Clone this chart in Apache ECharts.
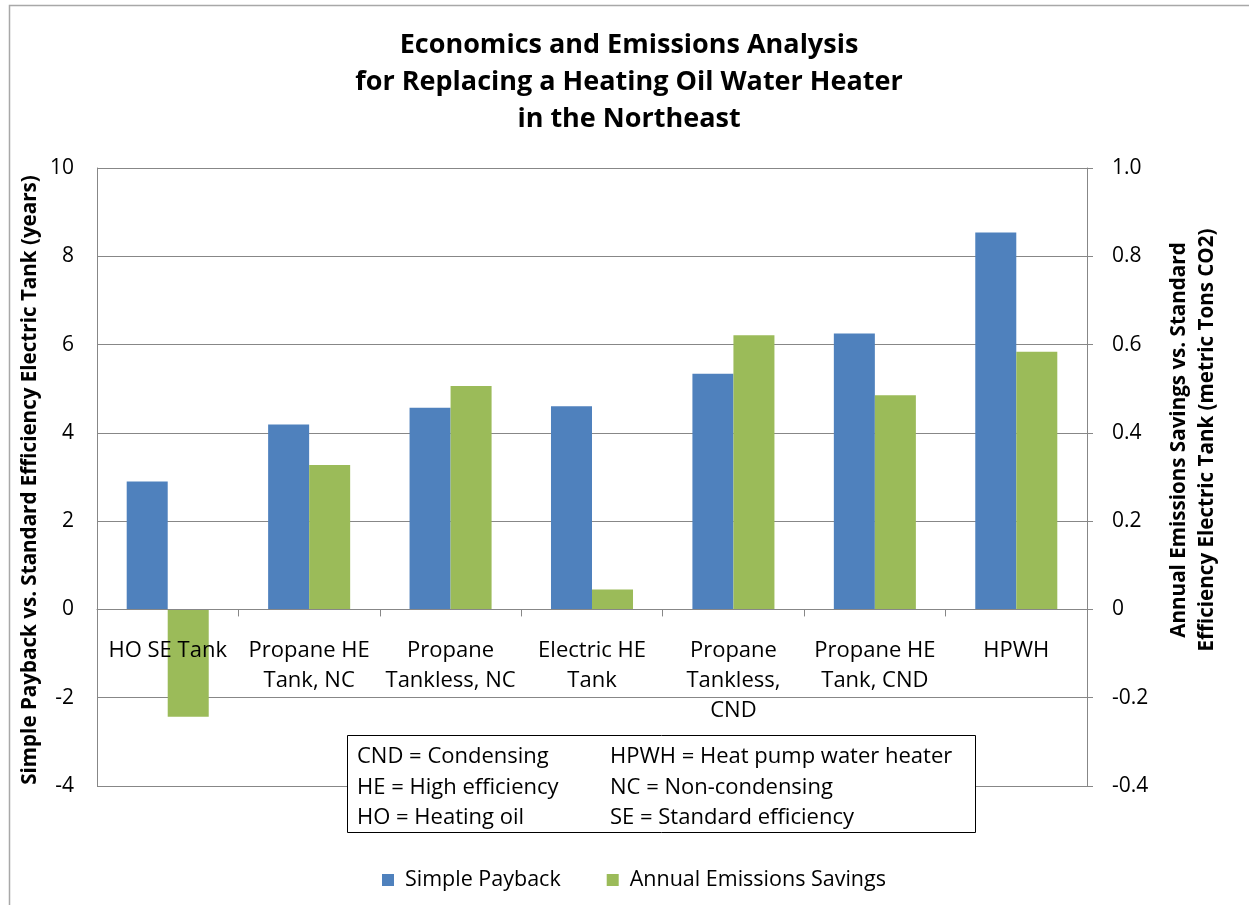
<!DOCTYPE html>
<html>
<head>
<meta charset="utf-8">
<script src="https://cdn.jsdelivr.net/npm/echarts@6/dist/echarts.min.js"></script>
<style>
  html, body { margin: 0; padding: 0; background: #fff; }
  #chart { width: 1249px; height: 905px; }
</style>
</head>
<body>
<div id="chart"></div>
<script>
// Water heater options compared against a standard-efficiency electric tank
const categories = [
  'HO SE Tank',
  'Propane HE\nTank, NC',
  'Propane\nTankless, NC',
  'Electric HE\nTank',
  'Propane\nTankless,\nCND',
  'Propane HE\nTank, CND',
  'HPWH'
];
// Simple payback, years (left axis)
const simplePayback = [2.90, 4.19, 4.57, 4.60, 5.34, 6.25, 8.54];
// Annual emissions savings, metric tons CO2 (right axis)
const emissionsSavings = [-0.243, 0.327, 0.506, 0.045, 0.621, 0.485, 0.584];

const leftTicks = { min: -4, max: 10, interval: 2 };
const rightTicks = { min: -0.4, max: 1.0, interval: 0.2 };

const seriesNames = ['Simple Payback', 'Annual Emissions Savings'];
const titleLines = [
  'Economics and Emissions Analysis',
  'for Replacing a Heating Oil Water Heater',
  'in the Northeast'
];
const leftAxisTitle = 'Simple Payback vs. Standard Efficiency Electric Tank (years)';
const rightAxisTitle = [
  'Annual Emissions Savings vs. Standard',
  'Efficiency Electric Tank (metric Tons CO2)'
];
const glossary = [
  ['CND = Condensing', 'HPWH = Heat pump water heater'],
  ['HE = High efficiency', 'NC = Non-condensing'],
  ['HO = Heating oil', 'SE = Standard efficiency']
];

const FONT = '"Open Sans", sans-serif';
const GRID_COLOR = '#878787';
const BLUE = '#4F81BD';
const GREEN = '#9BBB59';

// plot box in pixels
const GRID = { left: 97, right: 162, top: 168, bottom: 119 };
const CHART_H = 905;
const plotH = CHART_H - GRID.top - GRID.bottom;
// lift the category axis from the bottom edge up to the zero line
const zeroLift = -plotH * (0 - leftTicks.min) / (leftTicks.max - leftTicks.min);

const chart = echarts.init(document.getElementById('chart'), null, { renderer: 'canvas' });

const glossaryText = [];
glossary.forEach((row, i) => {
  glossaryText.push({
    type: 'text', x: 357, y: 757 + i * 30.5, z: 20,
    style: { text: row[0], font: '22px ' + FONT, fill: '#000', verticalAlign: 'middle' }
  });
  glossaryText.push({
    type: 'text', x: 610, y: 757 + i * 30.5, z: 20,
    style: { text: row[1], font: '22px ' + FONT, fill: '#000', verticalAlign: 'middle' }
  });
});

const option = {
  animation: false,
  backgroundColor: '#fff',
  textStyle: { fontFamily: FONT },
  grid: Object.assign({ containLabel: false }, GRID),
  legend: {
    data: seriesNames,
    top: 864,
    left: 377,
    icon: 'rect',
    itemWidth: 12,
    itemHeight: 12,
    itemGap: 46,
    textStyle: {
      fontSize: 21.5, color: '#000', fontFamily: FONT, padding: [0, 0, 0, 6]
    }
  },
  xAxis: {
    type: 'category',
    data: categories,
    position: 'bottom',
    offset: zeroLift,
    z: 10,
    axisLine: { onZero: false, lineStyle: { color: GRID_COLOR } },
    axisTick: { show: true, length: 7, lineStyle: { color: GRID_COLOR } },
    axisLabel: {
      interval: 0, margin: 26, color: '#000', fontSize: 22, lineHeight: 30,
      fontFamily: FONT
    }
  },
  yAxis: [
    {
      type: 'value',
      min: leftTicks.min, max: leftTicks.max, interval: leftTicks.interval,
      axisLine: { show: true, lineStyle: { color: GRID_COLOR } },
      axisTick: { show: false },
      splitLine: { show: true, lineStyle: { color: GRID_COLOR, width: 1 } },
      axisLabel: { color: '#000', fontSize: 21, margin: 23, fontFamily: FONT }
    },
    {
      type: 'value',
      position: 'right',
      min: rightTicks.min, max: rightTicks.max, interval: rightTicks.interval,
      axisLine: { show: true, lineStyle: { color: GRID_COLOR } },
      axisTick: { show: true, length: 6, lineStyle: { color: GRID_COLOR } },
      splitLine: { show: false },
      axisLabel: {
        color: '#000', fontSize: 21, margin: 25, fontFamily: FONT,
        formatter: v => (Math.abs(v) < 1e-9 ? '0' : v.toFixed(1))
      }
    }
  ],
  series: [
    {
      name: seriesNames[0], type: 'bar', yAxisIndex: 0,
      data: simplePayback, itemStyle: { color: BLUE },
      barGap: '0%', barCategoryGap: '42%'
    },
    {
      name: seriesNames[1], type: 'bar', yAxisIndex: 1,
      data: emissionsSavings, itemStyle: { color: GREEN },
      barGap: '0%', barCategoryGap: '42%'
    }
  ],
  graphic: [
    {
      type: 'rect', left: 7, top: 3, z: -1,
      shape: { width: 1260, height: 920 },
      style: { fill: 'none', stroke: '#a8a8a8', lineWidth: 1.5 }
    },
    {
      type: 'text', x: 629, y: 27,
      style: {
        text: titleLines.join('\n'), font: 'bold 27px ' + FONT, fill: '#000',
        align: 'center', lineHeight: 37
      }
    },
    {
      type: 'text', x: 30, y: 480, rotation: Math.PI / 2,
      style: {
        text: leftAxisTitle, font: 'bold 20.6px ' + FONT, fill: '#000',
        align: 'center', verticalAlign: 'middle'
      }
    },
    {
      type: 'text', x: 1193, y: 440, rotation: Math.PI / 2,
      style: {
        text: rightAxisTitle.join('\n'), font: 'bold 20.6px ' + FONT, fill: '#000',
        align: 'center', verticalAlign: 'middle', lineHeight: 28
      }
    },
    {
      type: 'rect', left: 347, top: 735, z: 15,
      shape: { width: 628, height: 97 },
      style: { fill: '#fff', stroke: '#000', lineWidth: 1 }
    }
  ].concat(glossaryText)
};

chart.setOption(option);
</script>
</body>
</html>
